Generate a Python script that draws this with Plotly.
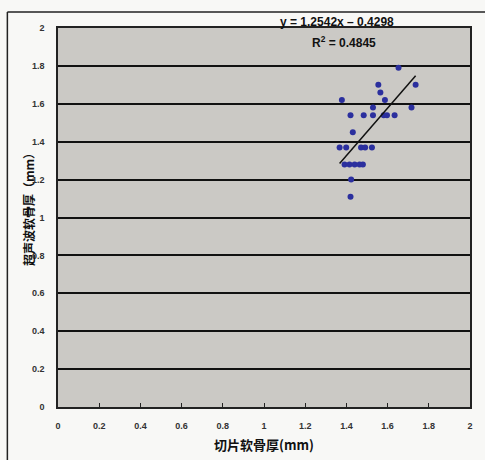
import plotly.graph_objects as go

# Data (slice thickness vs ultrasound thickness, mm)
slice_mm = [1.653, 1.555, 1.565, 1.736, 1.378, 1.587, 1.529, 1.716, 1.420, 1.484,
            1.529, 1.581, 1.597, 1.634, 1.431, 1.367, 1.399, 1.471, 1.491, 1.524,
            1.391, 1.415, 1.440, 1.464, 1.480, 1.423, 1.420]
ultra_mm = [1.79, 1.70, 1.66, 1.70, 1.62, 1.62, 1.58, 1.58, 1.54, 1.54,
            1.54, 1.54, 1.54, 1.54, 1.45, 1.37, 1.37, 1.37, 1.37, 1.37,
            1.28, 1.28, 1.28, 1.28, 1.28, 1.20, 1.11]

slope = 1.2542
intercept = -0.4298
r2 = 0.4845

tick_vals = [0, 0.2, 0.4, 0.6, 0.8, 1, 1.2, 1.4, 1.6, 1.8, 2]
tick_text = ["0", "0.2", "0.4", "0.6", "0.8", "1", "1.2", "1.4", "1.6", "1.8", "2"]

x_title = "切片软骨厚(mm)"
y_title = "超声波软骨厚（mm）"

xmin, xmax = min(slice_mm), max(slice_mm)
trend_x = [xmin, xmax]
trend_y = [slope * v + intercept for v in trend_x]

fig = go.Figure()
fig.add_trace(go.Scatter(
    x=slice_mm, y=ultra_mm, mode="markers",
    marker=dict(color="#2b2f9e", size=6, line=dict(width=0)),
    showlegend=False, hoverinfo="x+y"))
fig.add_trace(go.Scatter(
    x=trend_x, y=trend_y, mode="lines",
    line=dict(color="#111111", width=1.5),
    showlegend=False, hoverinfo="skip"))

tickfont = dict(family="Liberation Sans", size=9, color="#333333", weight="bold")

fig.update_layout(
    width=485, height=460,
    margin=dict(l=58, r=12, t=28, b=53),
    paper_bgcolor="#f8f8f6",
    plot_bgcolor="#cbc9c5",
    xaxis=dict(range=[0, 2], tickvals=tick_vals, ticktext=tick_text,
               showgrid=False, zeroline=False,
               showline=True, linecolor="#222222", linewidth=1.5, mirror=True,
               ticks="inside", ticklen=4, tickcolor="#222222",
               tickfont=tickfont, ticklabelstandoff=9),
    yaxis=dict(range=[0, 2], tickvals=tick_vals, ticktext=tick_text,
               showgrid=True, gridcolor="#111111", gridwidth=1.8,
               zeroline=False,
               showline=True, linecolor="#222222", linewidth=1.5, mirror=True,
               ticks="", tickfont=tickfont, ticklabelstandoff=10),
    annotations=[
        dict(text=f"y = {slope}x – {abs(intercept)}", xref="paper", yref="paper",
             x=0.678, y=1.016, showarrow=False, xanchor="center", yanchor="middle",
             font=dict(family="Liberation Sans", size=12, color="#111111", weight="bold")),
        dict(text=f"R<sup>2</sup> = {r2}", xref="paper", yref="paper",
             x=0.695, y=0.963, showarrow=False, xanchor="center", yanchor="middle",
             font=dict(family="Liberation Sans", size=12, color="#111111", weight="bold")),
        dict(text=x_title, xref="paper", yref="paper",
             x=0.5, y=-0.100, showarrow=False, xanchor="center", yanchor="middle",
             font=dict(family="Noto Sans CJK SC", size=13, color="#111111", weight="bold")),
        dict(text=y_title, xref="paper", yref="paper", textangle=-90,
             x=-0.073, y=0.53, showarrow=False, xanchor="center", yanchor="middle",
             font=dict(family="Noto Sans CJK SC", size=12, color="#111111", weight="bold")),
    ],
    shapes=[
        dict(type="line", xref="paper", yref="paper", x0=-0.1229, x1=1.05,
             y0=1.0422, y1=1.0422, line=dict(color="#222222", width=1.5)),
        dict(type="line", xref="paper", yref="paper", x0=-0.1229, x1=-0.1229,
             y0=1.0422, y1=-0.15, line=dict(color="#222222", width=1.5)),
    ],
)

fig.write_html("out.html")
